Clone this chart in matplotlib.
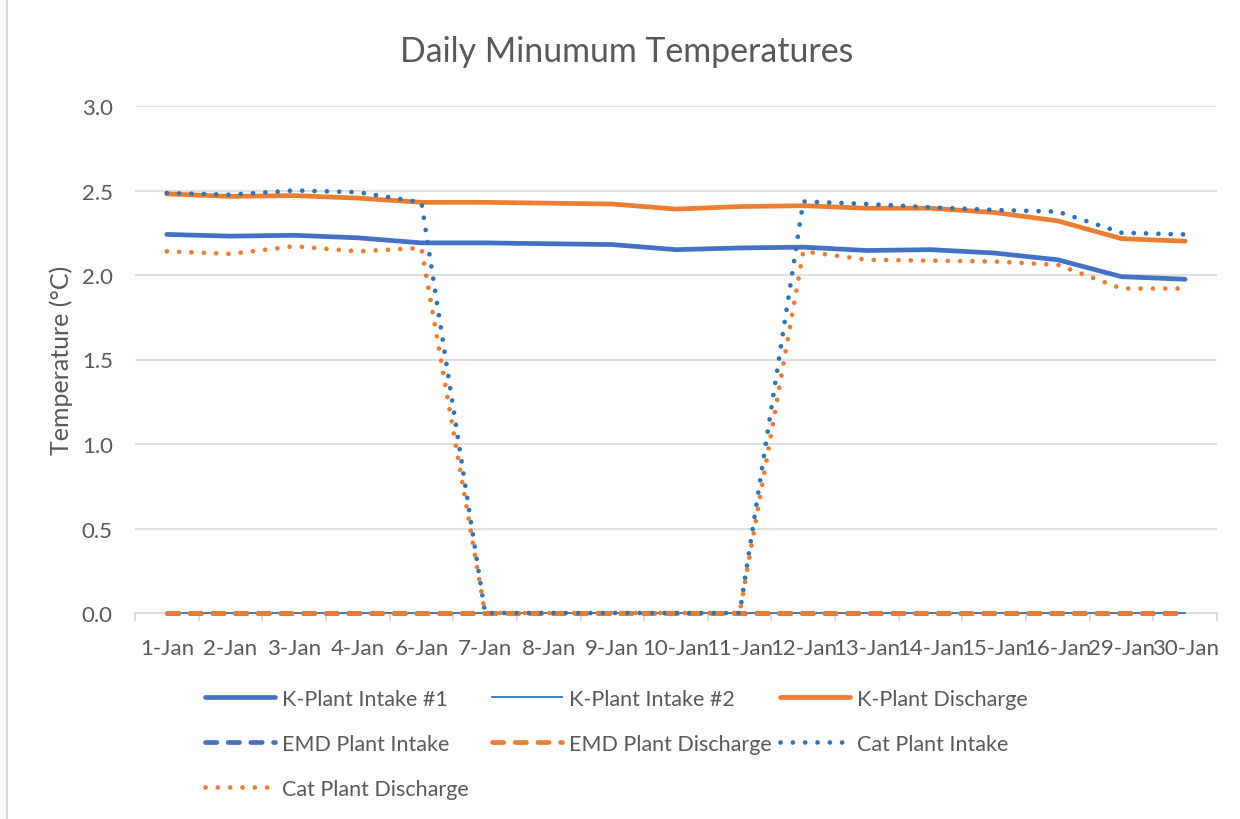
import matplotlib
matplotlib.use("Agg")
import matplotlib.pyplot as plt
from matplotlib.lines import Line2D
import numpy as np

plt.rcParams['font.family'] = ['Lato', 'DejaVu Sans']

categories = ["1-Jan", "2-Jan", "3-Jan", "4-Jan", "6-Jan", "7-Jan", "8-Jan", "9-Jan",
              "10-Jan", "11-Jan", "12-Jan", "13-Jan", "14-Jan", "15-Jan", "16-Jan",
              "29-Jan", "30-Jan"]

k_intake1 = [2.24, 2.23, 2.235, 2.22, 2.19, 2.19, 2.185, 2.18, 2.15, 2.16, 2.165,
             2.145, 2.15, 2.13, 2.09, 1.99, 1.975]
k_intake2 = [0.0] * 17
k_discharge = [2.48, 2.465, 2.47, 2.455, 2.43, 2.43, 2.425, 2.42, 2.39, 2.405, 2.41,
               2.395, 2.395, 2.37, 2.32, 2.215, 2.20]
emd_intake = [0.0] * 17
emd_discharge = [0.0] * 17
cat_intake = [2.485, 2.475, 2.50, 2.49, 2.43, 0.0, 0.0, 0.0, 0.0, 0.0, 2.435,
              2.42, 2.40, 2.385, 2.375, 2.25, 2.24]
cat_discharge = [2.14, 2.125, 2.17, 2.14, 2.16, 0.0, 0.0, 0.0, 0.0, 0.0, 2.14,
                 2.09, 2.085, 2.08, 2.06, 1.92, 1.92]

BLUE = '#4472C4'
BLUE2 = '#2E75B6'
ORANGE = '#ED7D31'
TXT = '#595959'

fig = plt.figure(figsize=(12.4, 8.2), dpi=100)
ax = fig.add_axes([135/1240, 1-614/820, (1217-135)/1240, (614-107)/820])

x = np.arange(len(categories))
lw = 3.4
dash = (0, (2.4, 2.4))
dot = (0, (0.01, 2.6))

kw = dict(clip_on=False)
l1, = ax.plot(x, k_intake1, color=BLUE, lw=lw, solid_capstyle='round', label='K-Plant Intake #1', **kw)
l2, = ax.plot(x, k_intake2, color=BLUE2, lw=1.3, label='K-Plant Intake #2', **kw)
l3, = ax.plot(x, k_discharge, color=ORANGE, lw=lw, solid_capstyle='round', label='K-Plant Discharge', **kw)
l4, = ax.plot(x, emd_intake, color=BLUE, lw=lw, linestyle=dash, dash_capstyle='round', label='EMD Plant Intake', **kw)
l5, = ax.plot(x, emd_discharge, color=ORANGE, lw=lw, linestyle=dash, dash_capstyle='round', label='EMD Plant Discharge', **kw)
l6, = ax.plot(x, cat_intake, color=BLUE2, lw=lw, linestyle=dot, dash_capstyle='round', label='Cat Plant Intake', **kw)
l7, = ax.plot(x, cat_discharge, color=ORANGE, lw=lw, linestyle=dot, dash_capstyle='round', label='Cat Plant Discharge', **kw)

ax.set_xlim(-0.5, len(categories) - 0.5)
ax.set_ylim(0, 3.0)
ax.set_yticks(np.arange(0, 3.01, 0.5))
ax.set_yticklabels([f"{v:.1f}" for v in np.arange(0, 3.01, 0.5)])
ax.set_xticks(x)
ax.set_xticklabels(categories)
ax.set_xticks(np.arange(-0.5, len(categories), 1), minor=True)
ax.tick_params(axis='x', which='major', length=0, pad=18, labelsize=16, labelcolor=TXT)
ax.tick_params(axis='x', which='minor', length=6, color='#D9D9D9', width=1.2)
ax.tick_params(axis='y', length=0, pad=16, labelsize=16, labelcolor=TXT)
ax.grid(axis='y', color='#D9D9D9', lw=1.2)
ax.set_axisbelow(True)
for s in ['top', 'right', 'left']:
    ax.spines[s].set_visible(False)
ax.spines['bottom'].set_color('#D9D9D9')
ax.spines['bottom'].set_linewidth(1.2)
ax.spines['bottom'].set_zorder(0.5)

ax.set_ylabel('Temperature (°C)', fontsize=18, color=TXT, labelpad=6)
fig.text(627/1240, 1-52/820, 'Daily Minumum Temperatures', ha='center', va='center',
         fontsize=24.4, color=TXT)

cols = [([l1, l4, l7], 205), ([l2, l5], 492), ([l3, l6], 780)]
for handles, xpx in cols:
    leg = fig.legend(handles=handles, labels=[h.get_label() for h in handles],
                     loc='upper left', bbox_to_anchor=(xpx/1240, 1-690/820),
                     frameon=False, fontsize=15.5, handlelength=3.25, handletextpad=0.33,
                     labelspacing=1.15, borderpad=0, borderaxespad=0)
    for t in leg.get_texts():
        t.set_color(TXT)

fig.add_artist(Line2D([7/1240, 7/1240], [0, 1], transform=fig.transFigure, color='#D9D9D9', lw=1.5))

fig.savefig('out.png', dpi=100)
